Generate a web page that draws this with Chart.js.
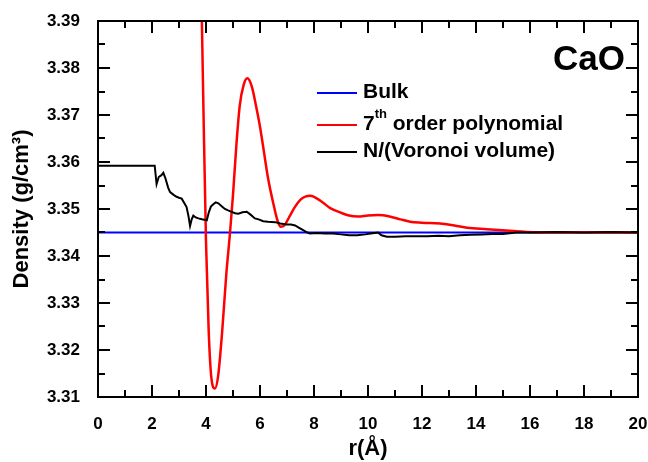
<!DOCTYPE html>
<html>
<head>
<meta charset="utf-8">
<title>CaO density profile</title>
<script src="https://cdn.jsdelivr.net/npm/chart.js@4.4.1/dist/chart.umd.min.js"></script>
<style>
  html, body { margin: 0; padding: 0; background: #ffffff; }
  #wrap { width: 648px; height: 462px; }
</style>
</head>
<body>
<div id="wrap"><canvas id="chart" width="648" height="462"></canvas></div>
<script>
// Bulk density of CaO (g/cm^3)
const bulkR = [0, 20];
const bulkDensity = [3.345, 3.345];

// 7th order polynomial fit of the radial density
const polyR = [3.80, 3.90, 4.00, 4.10, 4.20, 4.33, 4.45, 4.60, 4.75, 4.89, 5.00, 5.13, 5.25, 5.40, 5.53,
  5.70, 5.85, 6.00, 6.15, 6.30, 6.50, 6.65, 6.77, 6.90, 7.10, 7.30, 7.50, 7.70, 7.85, 8.00, 8.30,
  8.60, 9.00, 9.30, 9.63, 10.00, 10.37, 10.80, 11.20, 11.56, 12.00, 12.67, 13.20, 13.67, 14.40,
  15.40, 16.40, 18.00, 20.00];
const polyDensity = [3.405, 3.373, 3.343, 3.324, 3.3140, 3.3118, 3.3145, 3.3240, 3.3360, 3.3450, 3.3530,
  3.3640, 3.3720, 3.3765, 3.3778, 3.3760, 3.3720, 3.3675, 3.3620, 3.3565, 3.3510, 3.3475, 3.3462,
  3.3465, 3.3485, 3.3505, 3.3520, 3.3527, 3.3528, 3.3526, 3.3515, 3.3502, 3.3492, 3.3486, 3.3484,
  3.3486, 3.3487, 3.3484, 3.3478, 3.3473, 3.3471, 3.3469, 3.3465, 3.3460, 3.3457, 3.3453, 3.3450,
  3.3450, 3.3450];

// Atom count divided by Voronoi volume
const voronoiR = [0, 2.10, 2.17, 2.25, 2.35, 2.42, 2.50, 2.60, 2.67, 2.80, 2.91, 3.00, 3.10, 3.20, 3.28,
  3.35, 3.41, 3.47, 3.53, 3.62, 3.72, 3.85, 4.03, 4.10, 4.18, 4.27, 4.36, 4.46, 4.58, 4.70, 4.82,
  4.95, 5.08, 5.20, 5.35, 5.51, 5.65, 5.81, 5.95, 6.12, 6.30, 6.56, 6.75, 6.99, 7.15, 7.30, 7.45,
  7.60, 7.75, 7.85, 8.10, 8.40, 8.70, 9.00, 9.30, 9.60, 9.90, 10.10, 10.37, 10.50, 10.70, 11.00,
  11.40, 11.80, 12.20, 12.60, 13.00, 13.40, 13.80, 14.20, 14.60, 15.00, 15.50, 16.00, 17.00,
  18.00, 19.00, 20.00];
const voronoiDensity = [3.3592, 3.3592, 3.3553, 3.3568, 3.3572, 3.3577, 3.3565, 3.3545, 3.3536, 3.3530,
  3.3526, 3.3524, 3.3522, 3.3512, 3.3504, 3.3485, 3.3464, 3.3478, 3.3486, 3.3482, 3.3480, 3.3478,
  3.3476, 3.3492, 3.3505, 3.3510, 3.3514, 3.3512, 3.3506, 3.3500, 3.3497, 3.3494, 3.3491, 3.3490,
  3.3493, 3.3494, 3.3488, 3.3480, 3.3478, 3.3474, 3.3473, 3.3472, 3.3469, 3.3467, 3.3467, 3.3465,
  3.3460, 3.3455, 3.3450, 3.3448, 3.3449, 3.3448, 3.3448, 3.3446, 3.3444, 3.3444, 3.3446, 3.3448,
  3.3450, 3.3444, 3.3441, 3.3441, 3.3442, 3.3442, 3.3442, 3.3443, 3.3442, 3.3444, 3.3445, 3.3446,
  3.3447, 3.3447, 3.3450, 3.3450, 3.3451, 3.3450, 3.3451, 3.3450];

// Axis ranges and tick steps
const xRange = [0, 20];
const yRange = [3.31, 3.39];
const xMajorStep = 2, xMinorStep = 1;
const yMajorStep = 0.01, yMinorStep = 0.005;

const seriesLabels = ['Bulk', '7th order polynomial', 'N/(Voronoi volume)'];
const panelLabel = 'CaO';

const FONT = '"Liberation Sans", Arial, Helvetica, sans-serif';
const toPoints = (xs, ys) => xs.map((x, i) => ({ x: x, y: ys[i] }));

// Frame with inward major/minor ticks on all four sides
const frameTicks = {
  id: 'frameTicks',
  afterDraw(chart) {
    const { ctx, chartArea: a, scales: { x, y } } = chart;
    ctx.save();
    ctx.strokeStyle = '#000';
    ctx.lineWidth = 2;
    ctx.strokeRect(a.left, a.top, a.right - a.left, a.bottom - a.top);
    ctx.beginPath();
    const nx = Math.round((xRange[1] - xRange[0]) / xMinorStep);
    for (let i = 0; i <= nx; i++) {
      const v = xRange[0] + i * xMinorStep;
      const px = Math.round(x.getPixelForValue(v));
      const len = (i % Math.round(xMajorStep / xMinorStep) === 0) ? 12 : 7;
      ctx.moveTo(px, a.bottom); ctx.lineTo(px, a.bottom - len);
      ctx.moveTo(px, a.top); ctx.lineTo(px, a.top + len);
    }
    const ny = Math.round((yRange[1] - yRange[0]) / yMinorStep);
    for (let i = 0; i <= ny; i++) {
      const v = yRange[0] + i * yMinorStep;
      const py = Math.round(y.getPixelForValue(v));
      const len = (i % Math.round(yMajorStep / yMinorStep) === 0) ? 12 : 7;
      ctx.moveTo(a.left, py); ctx.lineTo(a.left + len, py);
      ctx.moveTo(a.right, py); ctx.lineTo(a.right - len, py);
    }
    ctx.stroke();
    ctx.restore();
  }
};

// Legend box inside the plot and the panel label
const insideLegend = {
  id: 'insideLegend',
  afterDraw(chart) {
    const { ctx } = chart;
    const rows = [93, 125, 152];
    const lineX0 = 317, lineX1 = 357, textX = 363;
    ctx.save();
    ctx.textBaseline = 'middle';
    ctx.textAlign = 'left';
    ctx.fillStyle = '#000';
    chart.data.datasets.forEach((ds, i) => {
      const yy = rows[i];
      ctx.strokeStyle = ds.borderColor;
      ctx.lineWidth = 2;
      ctx.beginPath();
      ctx.moveTo(lineX0, yy); ctx.lineTo(lineX1, yy);
      ctx.stroke();
      const m = /^(\d+)(st|nd|rd|th)(.*)$/.exec(ds.label);
      const ty = yy - 1;
      if (m) {
        ctx.font = 'bold 21px ' + FONT;
        ctx.fillText(m[1], textX, ty);
        let cx = textX + ctx.measureText(m[1]).width;
        ctx.font = 'bold 13px ' + FONT;
        ctx.fillText(m[2], cx, ty - 10);
        cx += ctx.measureText(m[2]).width;
        ctx.font = 'bold 21px ' + FONT;
        ctx.fillText(m[3], cx, ty);
      } else {
        ctx.font = 'bold 21px ' + FONT;
        ctx.fillText(ds.label, textX, ty);
      }
    });
    ctx.font = 'bold 35px ' + FONT;
    ctx.textAlign = 'right';
    ctx.textBaseline = 'alphabetic';
    ctx.fillText(panelLabel, 625, 70);
    ctx.restore();
  }
};

new Chart(document.getElementById('chart'), {
  type: 'line',
  data: {
    datasets: [
      { label: seriesLabels[0], data: toPoints(bulkR, bulkDensity), borderColor: '#0000ff',
        borderWidth: 2, pointRadius: 0, tension: 0, order: 2 },
      { label: seriesLabels[1], data: toPoints(polyR, polyDensity), borderColor: '#ff0000',
        borderWidth: 2.5, pointRadius: 0, cubicInterpolationMode: 'monotone', order: 1 },
      { label: seriesLabels[2], data: toPoints(voronoiR, voronoiDensity), borderColor: '#000000',
        borderWidth: 2, pointRadius: 0, tension: 0, order: 0 }
    ]
  },
  options: {
    responsive: false,
    animation: false,
    devicePixelRatio: 1,
    layout: { padding: { top: 21, right: 10, left: 0, bottom: 0 } },
    plugins: { legend: { display: false }, tooltip: { enabled: false } },
    scales: {
      x: {
        type: 'linear',
        min: xRange[0], max: xRange[1],
        grid: { display: false },
        border: { display: false },
        ticks: { stepSize: xMajorStep, color: '#000', padding: 9,
                 font: { family: FONT, size: 17, weight: 'bold' }, maxRotation: 0 },
        title: { display: true, text: 'r(Å)', color: '#000', padding: { top: 0, bottom: 0 },
                 font: { family: FONT, size: 22, weight: 'bold' } },
        afterFit(scale) { scale.height = 65; scale.paddingLeft = 0; scale.paddingRight = 0; }
      },
      y: {
        type: 'linear',
        min: yRange[0], max: yRange[1],
        grid: { display: false },
        border: { display: false },
        ticks: { stepSize: yMajorStep, color: '#000', padding: 10,
                 font: { family: FONT, size: 17, weight: 'bold' },
                 callback: (v) => Number(v).toFixed(2) },
        title: { display: true, text: 'Density (g/cm³)', color: '#000', padding: { top: 9, bottom: 0 },
                 font: { family: FONT, size: 22, weight: 'bold' } },
        afterFit(scale) { scale.width = 98; scale.paddingTop = 0; scale.paddingBottom = 0; }
      }
    }
  },
  plugins: [frameTicks, insideLegend]
});
</script>
</body>
</html>
